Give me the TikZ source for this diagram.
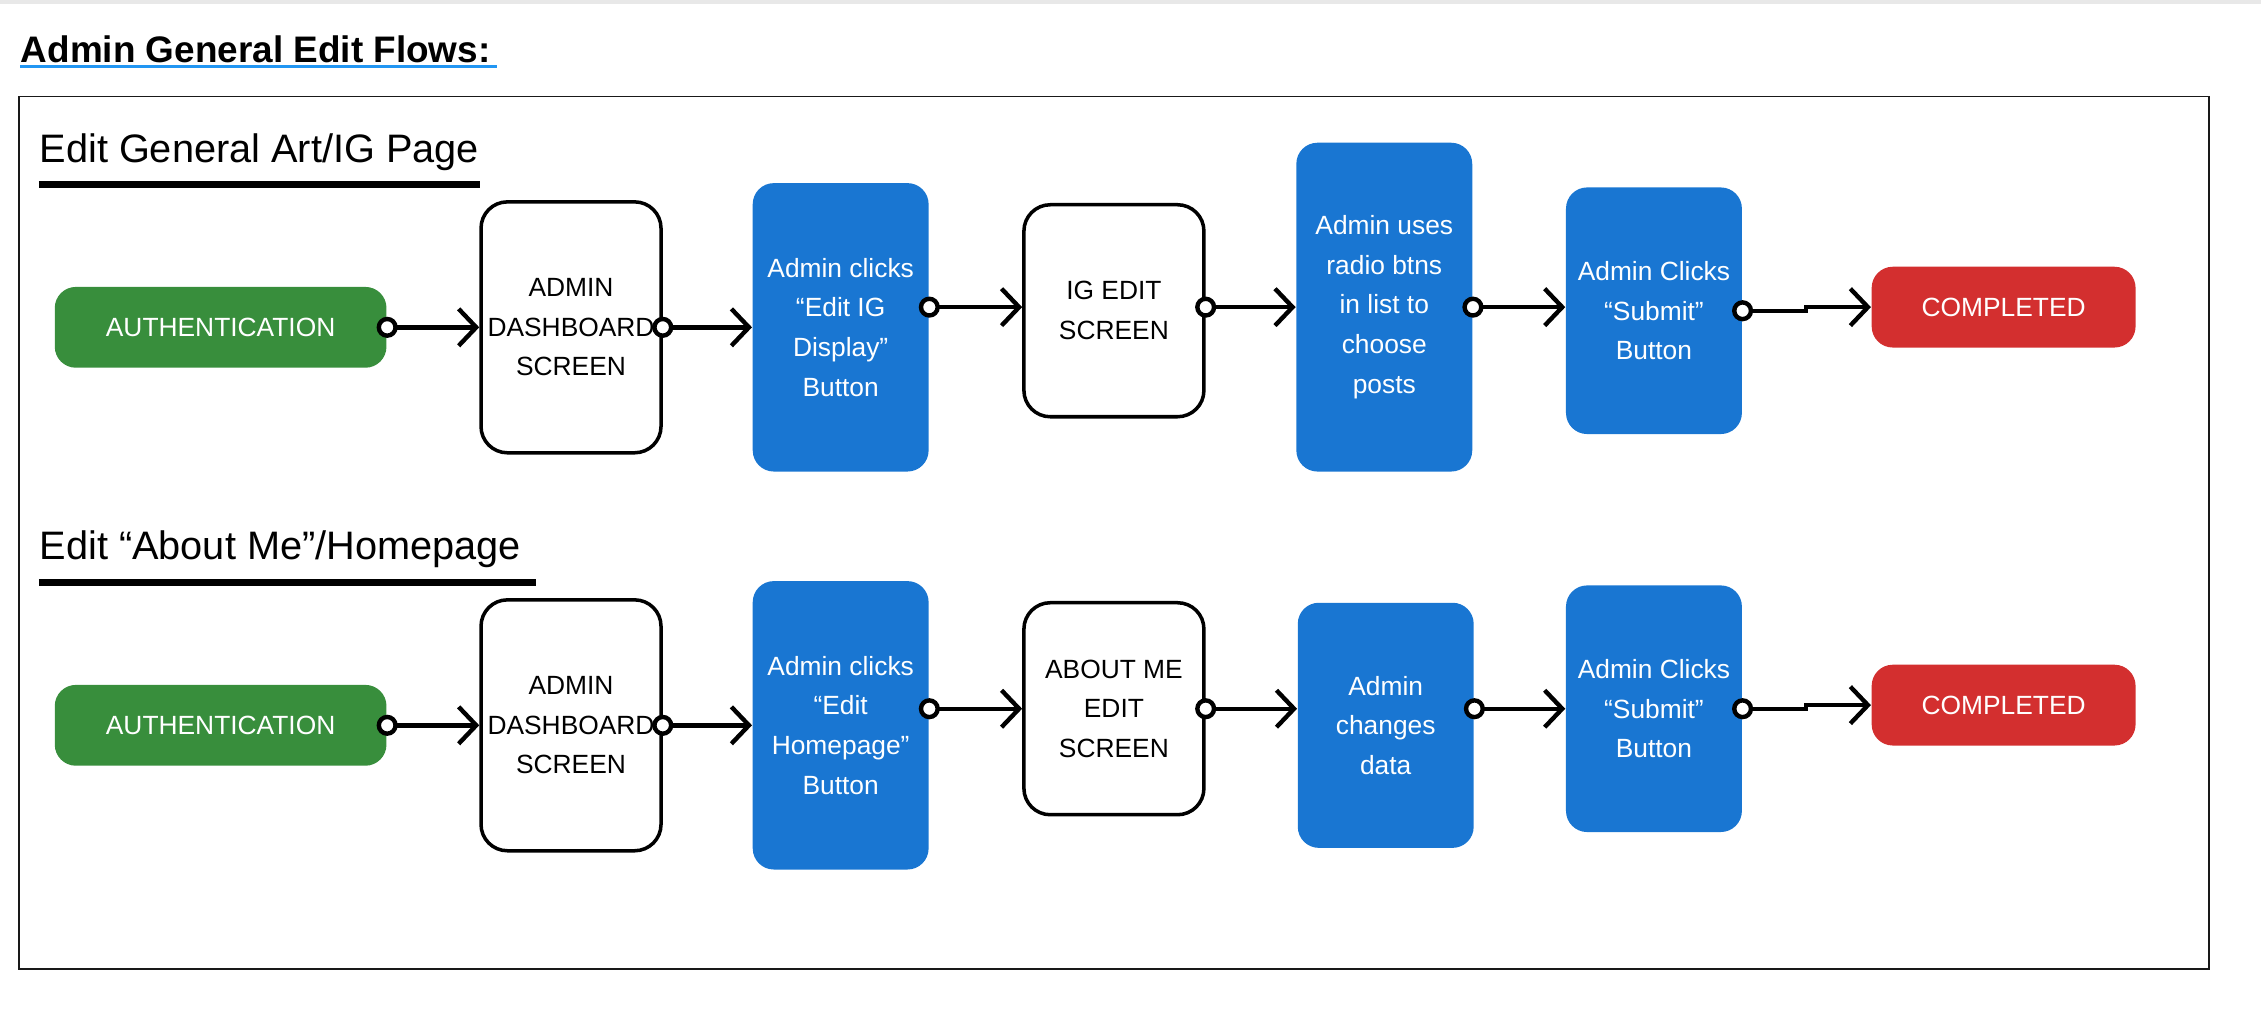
\documentclass[tikz,border=0pt]{standalone}
\usepackage{fontspec}
\setmainfont{Liberation Sans}
\usetikzlibrary{arrows.meta}

\definecolor{flowgreen}{HTML}{388E3C}
\definecolor{flowblue}{HTML}{1976D2}
\definecolor{flowred}{HTML}{D32F2F}
\definecolor{linkblue}{HTML}{2196F3}

\begin{document}
\begin{tikzpicture}[
    x=0.01442cm,
    y=-0.01442cm,
    box/.style={
        rounded corners=6pt,
        inner sep=0pt,
        align=center,
        font=\fontsize{7.5}{11.3}\selectfont
    },
    authbox/.style={box, fill=flowgreen, text=white, minimum width=3.317cm, minimum height=0.808cm},
    donebox/.style={box, fill=flowred, text=white, minimum width=2.639cm, minimum height=0.808cm},
    screenbox/.style={box, draw=black, line width=1pt, fill=white, rounded corners=7.5pt, minimum width=1.80cm},
    actionbox/.style={box, fill=flowblue, text=white, minimum width=1.759cm},
    flow/.style={
        {Circle[fill=white,length=6pt]}-{Straight Barb[length=5pt,width=10.5pt]},
        line width=1.25pt,
        shorten <=-3pt
    },
    heading/.style={anchor=base west, inner sep=0pt, font=\fontsize{11.3}{13}\selectfont},
    headrule/.style={line width=2pt}
]
    \useasboundingbox (0,0) rectangle (1568,700);
    \fill[black!9] (0,0) rectangle (1568,3);

    % Titel
    \node[anchor=base west, inner sep=0pt, font=\bfseries\fontsize{10.5}{12}\selectfont] (title) at (14,43) {Admin General Edit Flows:};
    \draw[linkblue, line width=1pt] (14,46) -- (345,46);

    \draw[black!90, line width=0.5pt] (13,67) rectangle (1532,672);

    \node[heading] (arthead) at (27,113) {Edit General Art/IG Page};
    \draw[headrule] (27,128) -- (333,128);
    \node[heading] (homehead) at (27,388) {Edit “About Me”/Homepage};
    \draw[headrule] (27,404) -- (372,404);

    % Gemeinsame Knoten beider Abläufe
    \foreach \r/\y in {1/227,2/503}{
        \node[authbox] (auth\r) at (153,\y) {AUTHENTICATION};
        \node[screenbox, minimum height=2.509cm] (dash\r) at (396,\y) {ADMIN\\DASHBOARD\\SCREEN};
        \node[actionbox, minimum height=2.466cm] (submit\r) at (1147,\y-11.5) {Admin Clicks\\“Submit”\\Button};
        \node[donebox] (done\r) at (1389.5,\y-14) {COMPLETED};
        \draw[flow] (auth\r.east) -- (dash\r.west);
        \draw[flow] (submit\r.east) -- ++(44,0) |- (done\r.west);
    }

    % Art/IG Seite
    \node[actionbox, minimum height=2.884cm] (igbtn) at (583,227) {Admin clicks\\“Edit IG\\Display”\\Button};
    \node[screenbox, minimum height=2.120cm] (igedit) at (772.5,215.5) {IG EDIT\\SCREEN};
    \node[actionbox, minimum height=3.288cm] (radio) at (960,213) {Admin uses\\radio btns\\in list to\\choose\\posts};

    \draw[flow] (dash1.east) -- (igbtn.west);
    \draw[flow] (igbtn.east |- radio.west) -- (igedit.west |- radio.west);
    \draw[flow] (igedit.east |- radio.west) -- (radio.west);
    \draw[flow] (radio.east) -- (submit1.west |- radio.east);

    % About Me / Homepage
    \node[actionbox, minimum height=2.884cm] (homebtn) at (583,503) {Admin clicks\\“Edit\\Homepage”\\Button};
    \node[screenbox, minimum height=2.120cm] (aboutedit) at (772.5,491.5) {ABOUT ME\\EDIT\\SCREEN};
    \node[actionbox, minimum height=2.451cm] (changes) at (961,503) {Admin\\changes\\data};

    \draw[flow] (dash2.east) -- (homebtn.west);
    \draw[flow] (homebtn.east |- aboutedit.west) -- (aboutedit.west);
    \draw[flow] (aboutedit.east) -- (changes.west |- aboutedit.east);
    \draw[flow] (changes.east |- submit2.west) -- (submit2.west);

\end{tikzpicture}
\end{document}
